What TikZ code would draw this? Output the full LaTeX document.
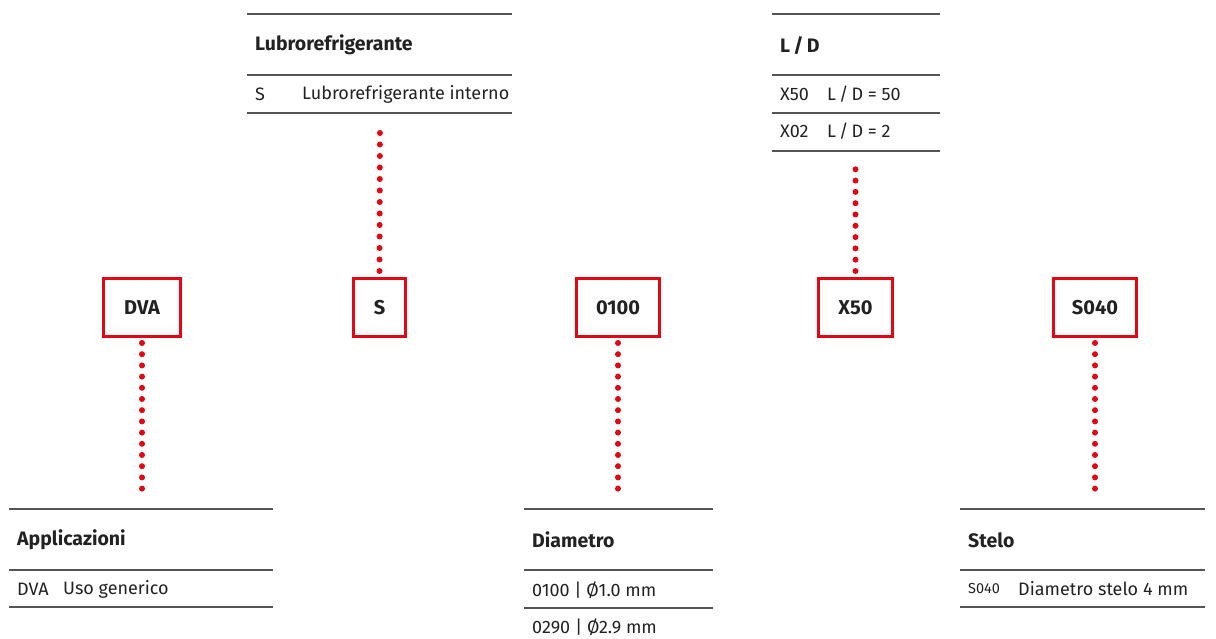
\documentclass[tikz,border=0pt]{standalone}
\usepackage{fontspec}
\setmainfont{Fira Sans}
\definecolor{codered}{HTML}{E30613}
\definecolor{rulegray}{HTML}{555555}
\definecolor{inkgray}{HTML}{222222}

\tikzset{
  codebox/.style={draw=codered, line width=3pt, minimum width=#1, minimum height=58pt,
    inner sep=0pt, text=inkgray, font=\bfseries\fontsize{20}{20}\selectfont},
  dotlink/.style={draw=codered, line width=6pt, line cap=round, dash pattern=on 0pt off #1},
  dotlink/.default=11.2pt,
  rule/.style={draw=rulegray, line width=1.2pt},
  headtxt/.style={anchor=west, inner sep=0pt, text=inkgray, font=\bfseries\fontsize{19.5}{19.5}\selectfont},
  rowtxt/.style={anchor=west, inner sep=0pt, text=inkgray, font=\fontsize{18}{18}\selectfont},
}

\begin{document}
\begin{tikzpicture}[x=1pt, y=-1pt]
\useasboundingbox (0,0) rectangle (1216,639);

% code boxes
\node[codebox=77pt] (dva) at (142,307.5) {DVA};
\node[codebox=52pt] (s) at (379.5,307.5) {S};
\node[codebox=83pt] (dia) at (618,307.5) {0100};
\node[codebox=74pt] (ld) at (855.5,307.5) {X50};
\node[codebox=83pt] (stelo) at (1095,307.5) {S040};

% Lubrorefrigerante table
\draw[rule] (247,14) -- (512,14);
\draw[rule] (247,75) -- (512,75);
\draw[rule] (247,113) -- (512,113);
\node[headtxt] (lubhead) at (255,45) {Lubrorefrigerante};
\node[rowtxt] (lubcode) at (255,94) {S};
\node[rowtxt] (lubtext) at (302,94) {Lubrorefrigerante interno};
\coordinate (lubtop) at (380,113);

% L/D table
\draw[rule] (772,14) -- (940,14);
\draw[rule] (772,75) -- (940,75);
\draw[rule] (772,113) -- (940,113);
\draw[rule] (772,151) -- (940,151);
\node[headtxt] (ldhead) at (780,46) {L\,/\,D};
\node[rowtxt] (ldcodea) at (780,94) {X50};
\node[rowtxt] (ldtexta) at (827,94) {L\,/\,D = 50};
\node[rowtxt] (ldcodeb) at (780,131) {X02};
\node[rowtxt] (ldtextb) at (827,131) {L\,/\,D = 2};
\coordinate (ldtop) at (855.5,151);

% Applicazioni table
\draw[rule] (9,509) -- (273,509);
\draw[rule] (9,570) -- (273,570);
\draw[rule] (9,607) -- (273,607);
\node[headtxt] (apphead) at (17,540) {Applicazioni};
\node[rowtxt] (appcode) at (17,589) {DVA};
\node[rowtxt] (apptext) at (63,589) {Uso generico};
\coordinate (appbot) at (142,509);

% Diametro table
\draw[rule] (524,509) -- (713,509);
\draw[rule] (524,570) -- (713,570);
\draw[rule] (524,608) -- (713,608);
\node[headtxt] (diahead) at (532,540) {Diametro};
\node[rowtxt] (diarowa) at (532,590) {0100 | Ø1.0 mm};
\node[rowtxt] (diarowb) at (532,627) {0290 | Ø2.9 mm};
\coordinate (diabot) at (618,509);

% Stelo table
\draw[rule] (960,509) -- (1205,509);
\draw[rule] (960,570) -- (1205,570);
\draw[rule] (960,607) -- (1205,607);
\node[headtxt] (stelohead) at (968,540) {Stelo};
\node[rowtxt, font=\fontsize{14.5}{14.5}\selectfont] (stelocode) at (968,589) {S040};
\node[rowtxt] (stelotext) at (1018,589) {Diametro stelo 4 mm};
\coordinate (stelobot) at (1095,509);

% dotted links
\draw[dotlink, shorten <=5pt, shorten >=16pt] (dva.south) -- (appbot);
\draw[dotlink, shorten <=5pt, shorten >=16pt] (dia.south) -- (diabot);
\draw[dotlink, shorten <=5pt, shorten >=16pt] (stelo.south) -- (stelobot);
\draw[dotlink=11.5pt, shorten <=6pt, shorten >=15pt] (s.north) -- (lubtop);
\draw[dotlink=11.3pt, shorten <=6pt, shorten >=14pt] (ld.north) -- (ldtop);

\end{tikzpicture}
\end{document}
